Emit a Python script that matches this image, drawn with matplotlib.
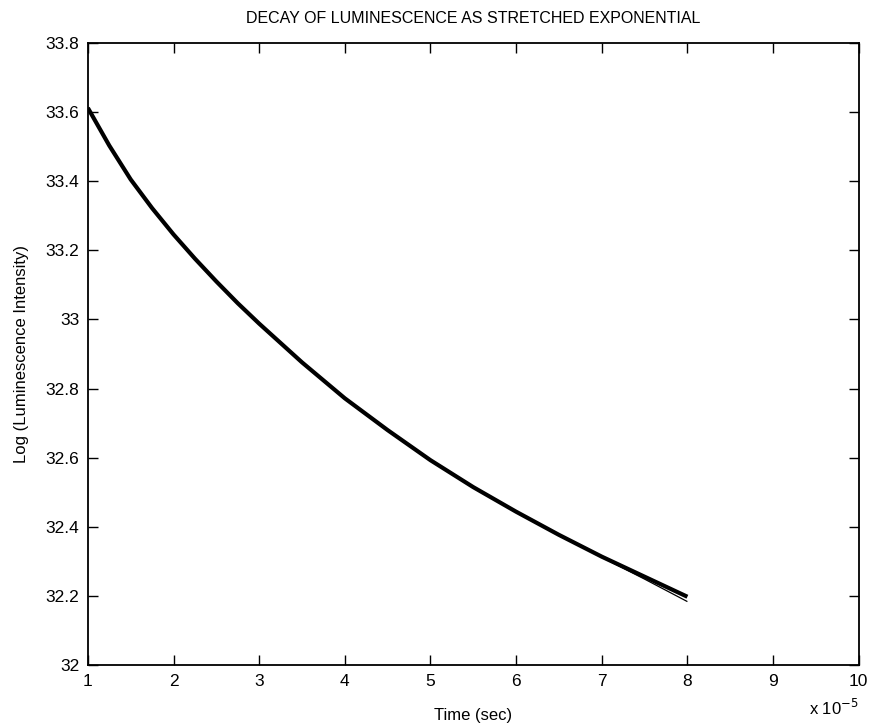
import numpy as np
import matplotlib.pyplot as plt

plt.rcParams['font.family'] = ['Liberation Sans', 'DejaVu Sans']

# time in units of 1e-5 s
t = [1.0, 1.25, 1.5, 1.75, 2.0, 2.25, 2.5, 2.75, 3.0, 3.5, 4.0, 4.5, 5.0,
     5.5, 6.0, 6.5, 7.0, 7.5, 8.0]
# measured log intensity (thick curve)
log_meas = [33.612, 33.503, 33.405, 33.322, 33.246, 33.176, 33.110, 33.047,
            32.988, 32.876, 32.772, 32.680, 32.593, 32.515, 32.444, 32.377,
            32.314, 32.256, 32.198]
# stretched exponential fit (thin curve)
log_fit = [33.612, 33.503, 33.405, 33.322, 33.246, 33.176, 33.110, 33.047,
           32.988, 32.876, 32.772, 32.680, 32.593, 32.515, 32.444, 32.377,
           32.312, 32.249, 32.184]
x_ticks = [1, 2, 3, 4, 5, 6, 7, 8, 9, 10]
y_ticks = [32, 32.2, 32.4, 32.6, 32.8, 33, 33.2, 33.4, 33.6, 33.8]
y_labels = ['32', '32.2', '32.4', '32.6', '32.8', '33', '33.2', '33.4', '33.6', '33.8']

fig = plt.figure(figsize=(8.7, 7.27), dpi=100)
ax = fig.add_axes([0.101, 0.085, 0.886, 0.856])

ax.plot(t, log_fit, color='black', lw=0.9, solid_capstyle='butt')
ax.plot(t, log_meas, color='black', lw=3.0, solid_capstyle='butt',
        solid_joinstyle='round')

ax.set_xlim(1, 10)
ax.set_ylim(32, 33.8)
ax.set_xticks(x_ticks)
ax.set_xticklabels([str(v) for v in x_ticks])
ax.set_yticks(y_ticks)
ax.set_yticklabels(y_labels)
ax.tick_params(direction='in', length=7, width=1, labelsize=12.5,
               top=True, right=True, pad=6)
for s in ax.spines.values():
    s.set_linewidth(1.3)

ax.set_title('DECAY OF LUMINESCENCE AS STRETCHED EXPONENTIAL', fontsize=11.5, pad=14)
ax.set_xlabel('Time (sec)', fontsize=12, labelpad=14)
ax.set_ylabel('Log (Luminescence Intensity)', fontsize=12, labelpad=12)
ax.text(1.0, -0.052, r'x 10$^{-5}$', transform=ax.transAxes, ha='right',
        va='top', fontsize=12)

fig.savefig('out.png', dpi=100)
